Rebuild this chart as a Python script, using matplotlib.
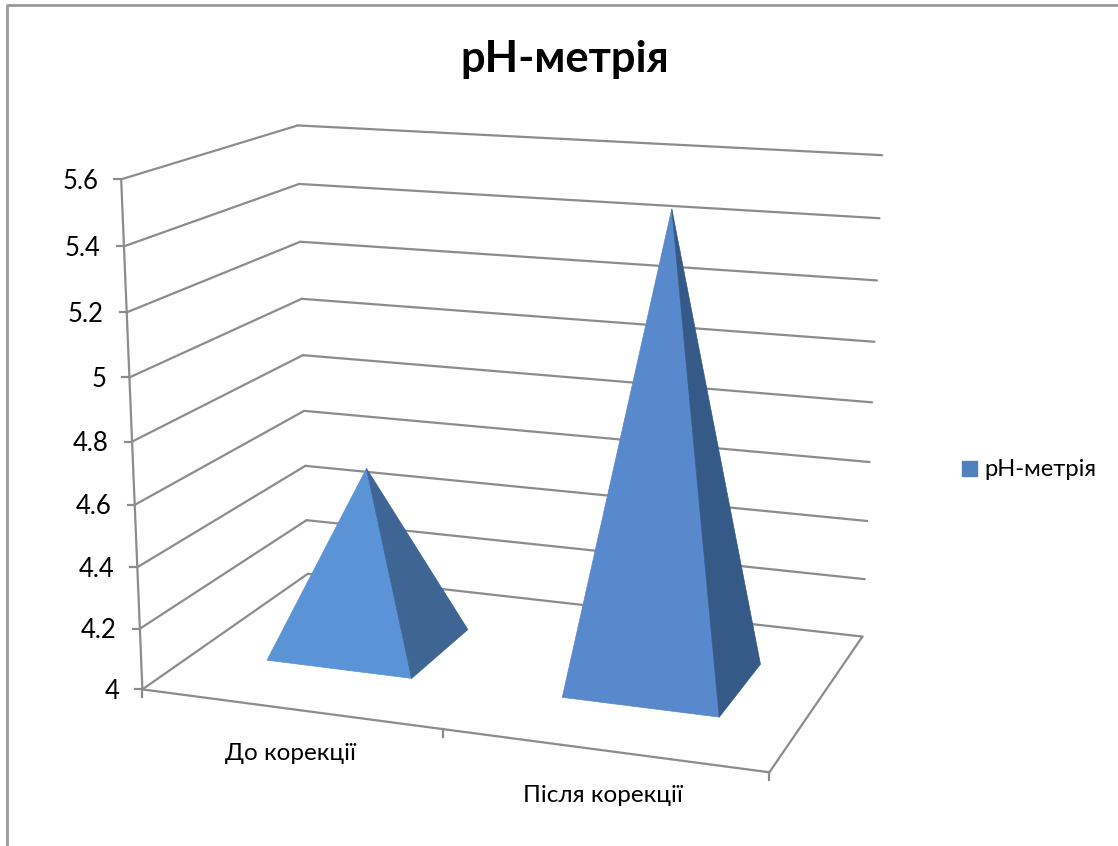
import numpy as np
from matplotlib import pyplot as plt
from matplotlib.patches import Rectangle

categories = ['До корекції', 'Після корекції']
ph_values = [4.6, 5.5]
value_ticks = [4, 4.2, 4.4, 4.6, 4.8, 5, 5.2, 5.4, 5.6]
tick_labels = ['4', '4.2', '4.4', '4.6', '4.8', '5', '5.2', '5.4', '5.6']
series_name = 'рН-метрія'

GRID = '#8c8c8c'
FONT = ['Lato', 'DejaVu Sans']
FACE_FRONT = ['#5b93d7', '#5789cc']
FACE_SIDE = ['#3e6594', '#365a88']

# box corners (across, depth, value) -> where they sit in the 1118x846 picture
BOX = [(0, 0, 4), (1, 0, 4), (1, 1, 4), (0, 1, 4), (0, 0, 5.6), (0, 1, 5.6), (1, 1, 5.6)]
PIX = [(142, 689), (770, 772), (862, 637), (308, 574), (121, 180), (298, 125), (882, 155)]


def fit_camera(box, pix):
    rows, rhs = [], []
    for (u, d, v), (px, py) in zip(box, pix):
        rows.append([u, d, v, 1, 0, 0, 0, 0, -px * u, -px * d, -px * v])
        rows.append([0, 0, 0, 0, u, d, v, 1, -py * u, -py * d, -py * v])
        rhs += [px, py]
    sol = np.linalg.lstsq(np.array(rows, float), np.array(rhs, float), rcond=None)[0]
    return np.append(sol, 1.).reshape(3, 4)


CAM = fit_camera(BOX, PIX)


def proj(u, d, v):
    x, y, w = CAM @ np.array([u, d, v, 1.])
    return x / w, y / w


def line3d(ax, a, b, lw=1.6, zorder=1):
    (x0, y0), (x1, y1) = proj(*a), proj(*b)
    ax.plot([x0, x1], [y0, y1], color=GRID, lw=lw, zorder=zorder, solid_capstyle='round')


fig = plt.figure(figsize=(11.18, 8.46), dpi=100)
ax = fig.add_axes([0, 0, 1, 1])
ax.set_xlim(0, 1118)
ax.set_ylim(846, 0)
ax.axis('off')

# chart frame
ax.plot([6.5, 6.5, 1118], [846, 5.5, 5.5], color='#9a9a9a', lw=2)

# walls and gridlines
for v, lab in zip(value_ticks, tick_labels):
    line3d(ax, (0, 0, v), (0, 1, v))
    line3d(ax, (0, 1, v), (1, 1, v))
    x, y = proj(0, 0, v)
    ax.plot([x - 7, x], [y, y], color=GRID, lw=1.6)
    ax.text(x - 23, y + 2, lab, ha='right', va='center', fontsize=18.5, family=FONT, color='black')
line3d(ax, (0, 0, 4), (0, 0, 5.6))
line3d(ax, (0, 0, 4), (1, 0, 4))
line3d(ax, (1, 0, 4), (1, 1, 4))

# category ticks
for u in [0, 0.5, 1]:
    x, y = proj(u, 0, 4)
    ax.plot([x, x], [y, y + 8], color=GRID, lw=1.6)

ax.text(290, 753, categories[0], ha='center', va='center', fontsize=17.5, family=FONT)
ax.text(603, 796, categories[1], ha='center', va='center', fontsize=17.5, family=FONT)

# pyramids
half_w, half_d = 0.125, 0.2
for i, val in enumerate(ph_values):
    c = (i + 0.5) / len(ph_values)
    apex = proj(c, 0.5, val)
    fl = proj(c - half_w, 0.5 - half_d, 4)
    fr = proj(c + half_w, 0.5 - half_d, 4)
    br = proj(c + half_w, 0.5 + half_d, 4)
    ax.fill(*zip(fl, fr, apex), color=FACE_FRONT[i], lw=0.5, zorder=3)
    ax.fill(*zip(fr, br, apex), color=FACE_SIDE[i], lw=0.5, zorder=3)

ax.text(565, 59, series_name, ha='center', va='center', fontsize=31.2, fontweight='bold', family=FONT)
ax.add_patch(Rectangle((962, 461), 15, 15, color='#4f81bd'))
ax.text(984, 470, series_name, ha='left', va='center', fontsize=17.1, family=FONT)

fig.savefig('out.png')
